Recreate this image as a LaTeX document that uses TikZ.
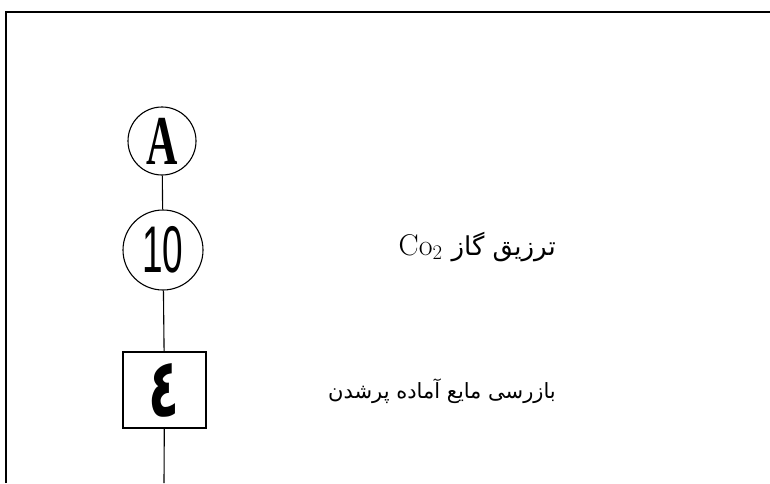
\documentclass[tikz,border=0pt]{standalone}
\usepackage{fontspec}
\TeXXeTstate=1
\newfontfamily\arabicfont[Script=Arabic]{DejaVu Sans}
\newfontfamily\arabicbold[Script=Arabic]{DejaVu Sans Bold}
\newfontfamily\numfont{Liberation Sans}
\newfontfamily\letfont{Liberation Serif}
\begin{document}
\begin{tikzpicture}[x=1pt,y=1pt,
  conn/.style={line width=1.1pt},
  ring/.style={draw,line width=1.1pt,circle,inner sep=0pt},
  stepbox/.style={draw,line width=1.1pt,minimum width=83pt,minimum height=76pt,inner sep=0pt},
  lbl/.style={anchor=base east,inner sep=0pt}]
\useasboundingbox (0,0) rectangle (770,483);
\draw[line width=1.6pt] (6,0) -- (6,471) -- (770,471);
\node[ring,minimum size=68pt] (a) at (162,342) {\letfont\bfseries\scalebox{0.62}[1]{\fontsize{70}{70}\selectfont A}};
\node[ring,minimum size=80pt] (ten) at (163,233) {\numfont\scalebox{0.56}[1]{\fontsize{66}{66}\selectfont 10}};
\node[stepbox] (four) at (164.5,93) {\arabicbold\scalebox{0.62}[1]{\fontsize{82}{82}\selectfont\beginR ٤\endR}};
\coordinate (end) at (164,0);
\draw[conn] (a) -- (ten);
\draw[conn] (ten) -- (four);
\draw[conn] (four) -- (end);
\node[lbl] (t1) at (556,228) {\fontsize{30}{30}\selectfont Co$_2$ {\arabicfont\fontsize{26}{26}\selectfont\beginR ترزیق گاز\endR}};
\node[lbl] (t2) at (556,85) {\arabicfont\fontsize{21}{21}\selectfont\beginR بازرسی مایع آماده پرشدن\endR};
\end{tikzpicture}
\end{document}
